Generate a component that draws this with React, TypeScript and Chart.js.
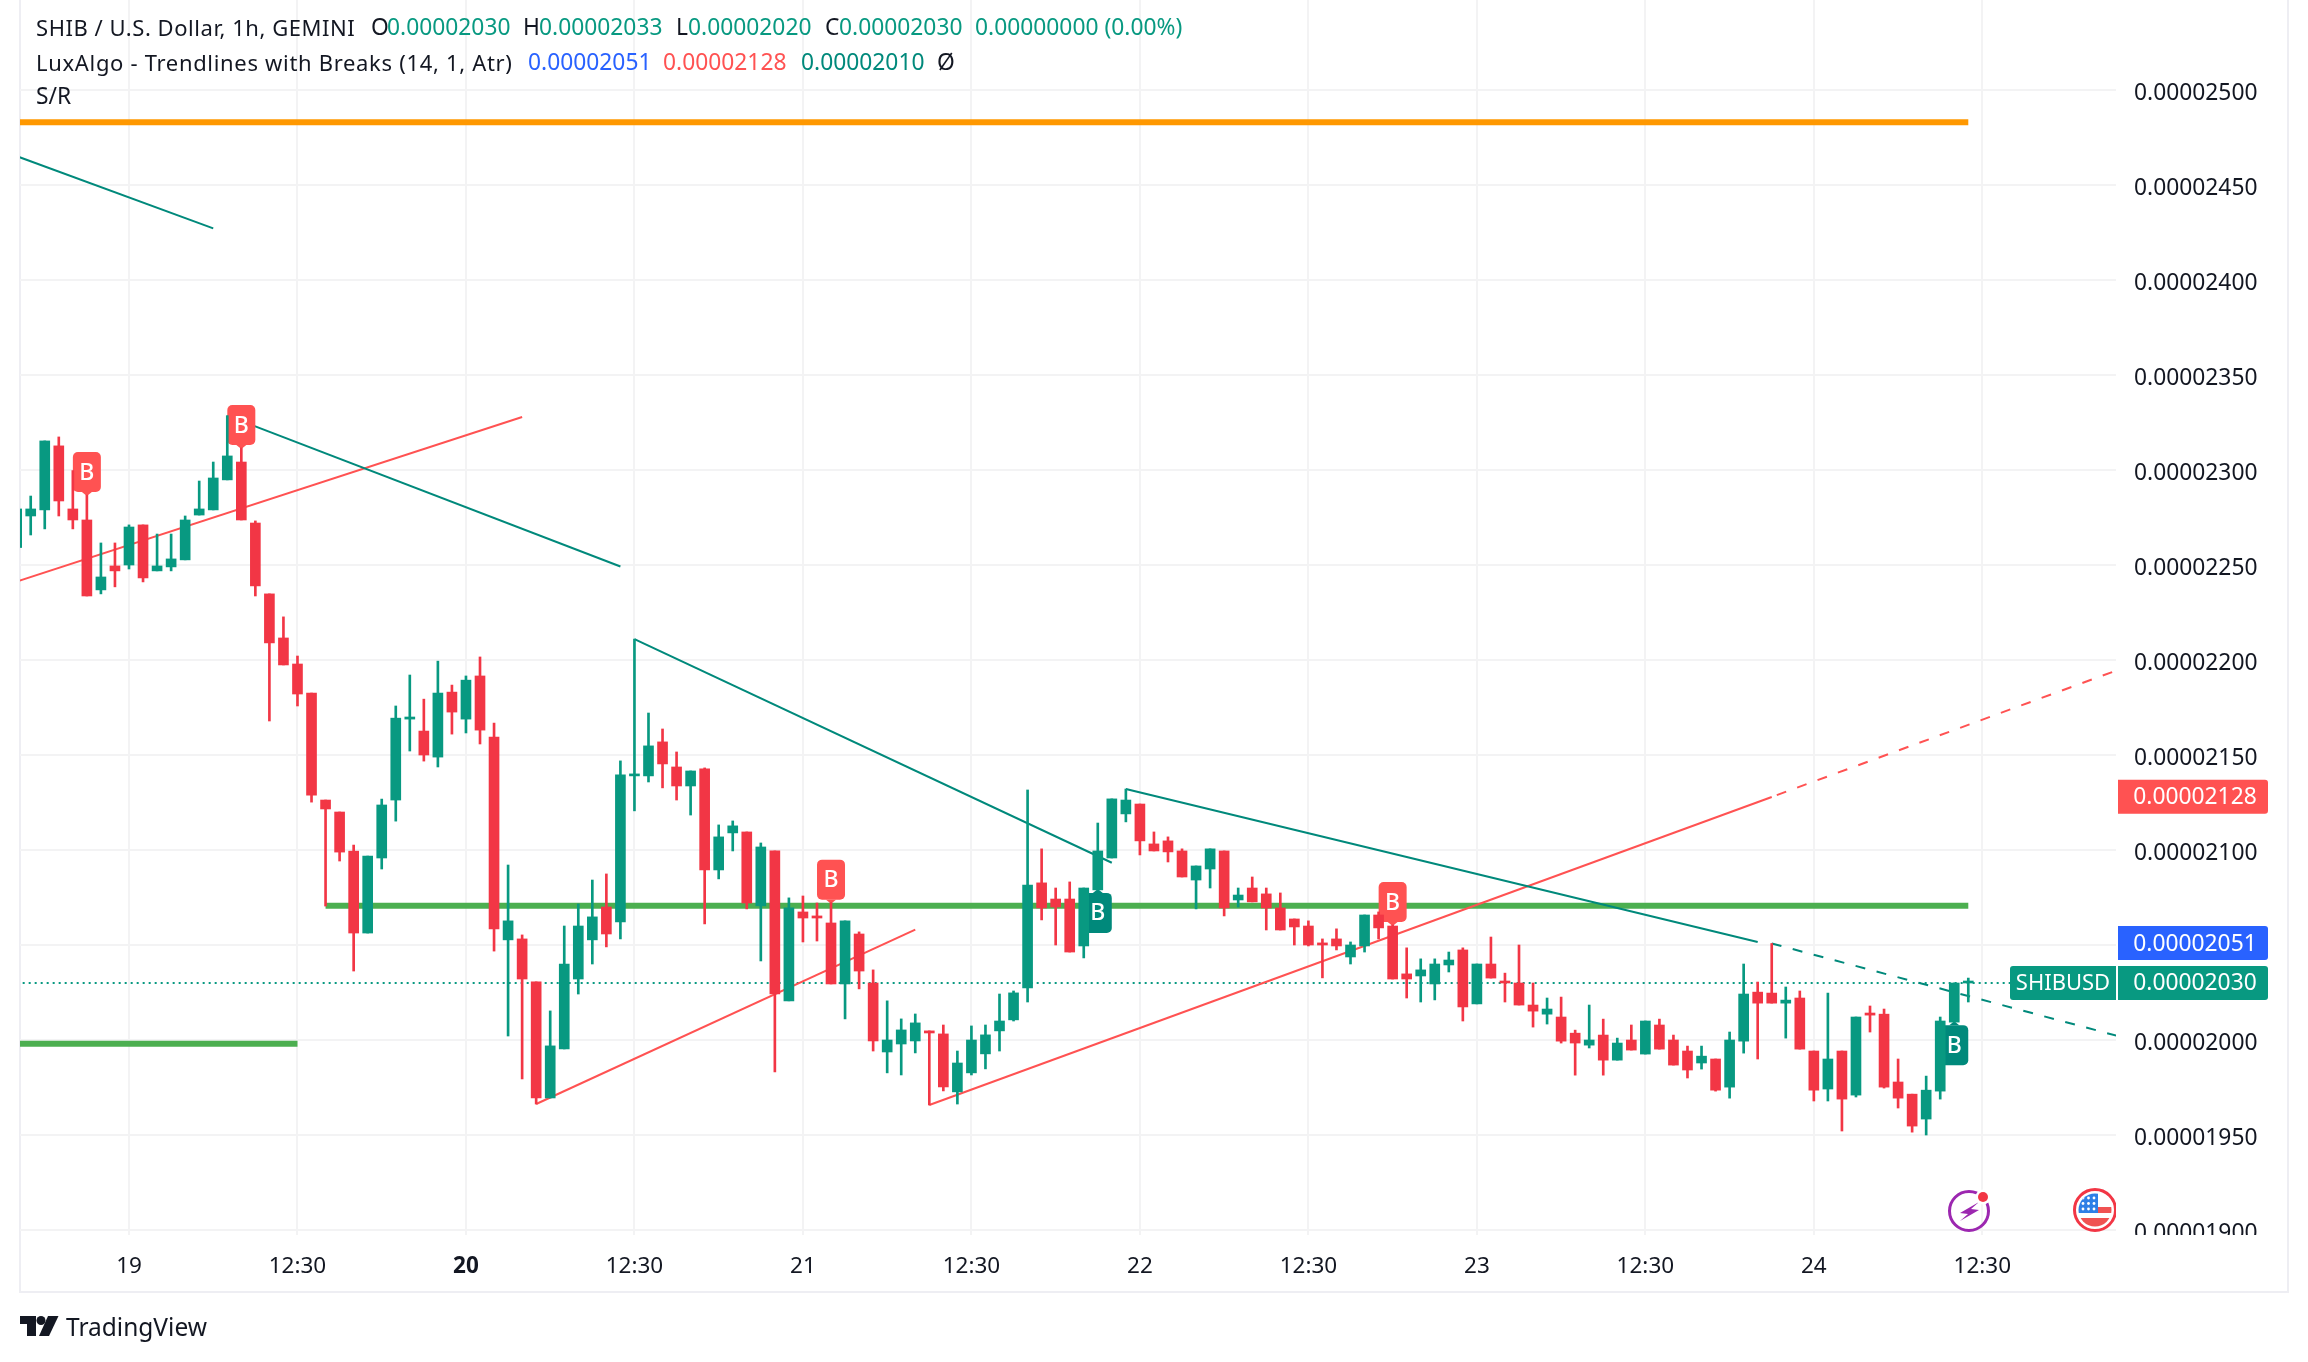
import React, { useEffect, useRef } from "react";
import { Chart, registerables } from "chart.js";

Chart.register(...registerables);

const firstBar = -8;

const opens = [
  2259.2, 2275.8, 2279.0, 2312.7, 2279.5, 2273.7, 2236.9, 2249.5, 2250.0, 2271.1,
  2246.9, 2249.0, 2252.7, 2276.3, 2279.0, 2294.8, 2304.2, 2272.1, 2234.8, 2211.6,
  2197.9, 2182.6, 2126.3, 2120.0, 2099.4, 2056.3, 2095.8, 2126.3, 2168.9, 2162.6,
  2148.9, 2183.1, 2168.9, 2191.6, 2159.4, 2052.7, 2053.2, 2030.6, 1969.5, 1995.3,
  2032.1, 2052.7, 2070.0, 2062.1, 2139.0, 2139.0, 2156.9, 2143.7, 2133.7, 2142.7,
  2089.5, 2109.0, 2109.5, 2070.6, 2099.5, 2020.6, 2067.4, 2065.3, 2061.6, 2029.5,
  2055.8, 2030.0, 1993.7, 1997.9, 1999.5, 2004.8, 2003.2, 1972.7, 1982.7, 1992.7,
  2004.8, 2010.6, 2027.4, 2082.7, 2074.2, 2074.2, 2049.5, 2079.0, 2095.8, 2119.0,
  2124.2, 2103.2, 2104.8, 2099.5, 2084.2, 2090.0, 2099.5, 2073.7, 2080.0, 2076.9,
  2069.5, 2063.7, 2060.0, 2051.1, 2053.2, 2043.7, 2049.5, 2065.8, 2060.0, 2034.8,
  2033.7, 2029.5, 2039.5, 2047.4, 2019.0, 2040.0, 2031.0, 2030.0, 2018.4, 2013.6,
  2012.1, 2003.6, 1997.3, 2002.6, 1989.4, 2000.0, 1992.6, 2007.9, 2000.0, 1994.2,
  1987.9, 1990.0, 1975.2, 1999.4, 2025.2, 2024.7, 2019.4, 2022.1, 1994.2, 1974.2,
  1994.2, 1971.0, 2014.2, 2013.6, 1977.9, 1971.5, 1958.4, 1973.1, 2009.4, 2030.0,
];

const closes = [
  2279.5, 2279.5, 2315.3, 2283.7, 2273.7, 2233.7, 2243.7, 2246.9, 2270.0, 2243.2,
  2249.5, 2253.2, 2273.7, 2279.5, 2295.8, 2307.4, 2273.7, 2239.0, 2209.0, 2197.4,
  2182.1, 2128.9, 2121.6, 2098.9, 2056.3, 2096.8, 2123.7, 2169.4, 2170.0, 2150.0,
  2182.6, 2172.6, 2189.4, 2163.1, 2058.4, 2062.7, 2032.1, 1969.5, 1996.9, 2040.0,
  2060.0, 2064.8, 2055.8, 2139.5, 2140.0, 2154.8, 2145.3, 2133.7, 2141.6, 2089.5,
  2106.9, 2112.7, 2072.1, 2101.6, 2024.2, 2069.5, 2064.2, 2064.2, 2029.5, 2062.7,
  2036.3, 1999.5, 2000.0, 2005.3, 2009.0, 2003.7, 1975.3, 1987.9, 2000.0, 2002.7,
  2010.0, 2024.8, 2081.6, 2069.5, 2070.0, 2046.3, 2080.0, 2099.5, 2126.9, 2126.3,
  2104.8, 2099.5, 2099.0, 2085.8, 2091.6, 2100.6, 2069.5, 2076.3, 2072.7, 2069.5,
  2057.9, 2059.5, 2050.0, 2050.0, 2049.5, 2050.0, 2065.8, 2059.0, 2032.1, 2032.1,
  2036.9, 2040.0, 2042.1, 2017.4, 2040.0, 2032.6, 2030.0, 2018.4, 2015.2, 2016.3,
  1999.4, 1998.4, 2000.0, 1989.4, 1998.4, 1994.7, 2010.0, 1995.2, 1986.8, 1984.2,
  1991.5, 1973.6, 2000.0, 2024.2, 2019.4, 2019.4, 2021.0, 1995.2, 1973.6, 1990.0,
  1968.9, 2012.1, 2013.1, 1975.2, 1969.4, 1954.7, 1973.6, 2010.0, 2030.0, 2030.0,
];

const highs = [
  2279.5, 2286.3, 2315.3, 2317.4, 2299.7, 2286.8, 2261.6, 2261.6, 2271.1, 2271.1,
  2266.3, 2266.3, 2275.8, 2294.2, 2304.2, 2328.6, 2311.6, 2273.2, 2234.8, 2222.7,
  2202.1, 2182.6, 2126.3, 2120.0, 2102.6, 2096.8, 2126.8, 2175.8, 2192.1, 2179.4,
  2199.4, 2186.8, 2191.6, 2201.6, 2166.8, 2092.1, 2055.3, 2030.6, 2015.3, 2060.0,
  2071.6, 2084.2, 2087.4, 2146.9, 2211.0, 2172.1, 2163.7, 2151.6, 2141.6, 2143.2,
  2113.2, 2115.3, 2109.5, 2103.7, 2099.5, 2074.8, 2075.8, 2072.1, 2072.3, 2062.7,
  2056.9, 2036.9, 2020.6, 2011.1, 2013.7, 2004.8, 2007.9, 1994.2, 2007.4, 2007.9,
  2024.2, 2025.8, 2131.6, 2100.6, 2080.0, 2083.2, 2080.0, 2114.2, 2126.9, 2132.1,
  2124.2, 2109.5, 2106.9, 2100.6, 2091.6, 2100.6, 2099.5, 2080.0, 2085.8, 2080.0,
  2077.4, 2063.7, 2062.7, 2053.2, 2058.5, 2051.6, 2065.8, 2067.4, 2060.5, 2048.5,
  2042.7, 2042.7, 2046.3, 2048.5, 2040.0, 2054.2, 2035.2, 2050.0, 2030.0, 2022.1,
  2022.6, 2005.2, 2018.4, 2011.0, 2001.0, 2007.9, 2010.0, 2011.0, 2002.6, 1996.8,
  1996.8, 1990.0, 2004.2, 2040.0, 2030.5, 2050.8, 2027.9, 2025.8, 1994.2, 2024.7,
  1994.2, 2012.1, 2017.9, 2016.3, 1990.0, 1971.5, 1981.0, 2012.1, 2030.0, 2032.6,
];

const lows = [
  2259.2, 2265.8, 2269.0, 2275.8, 2269.0, 2233.7, 2234.8, 2238.5, 2247.9, 2241.1,
  2246.9, 2246.9, 2252.7, 2276.3, 2279.0, 2294.8, 2273.7, 2233.7, 2167.9, 2197.4,
  2175.8, 2125.2, 2070.5, 2094.2, 2036.3, 2056.3, 2090.0, 2115.2, 2152.1, 2146.8,
  2143.7, 2161.0, 2161.6, 2155.8, 2046.8, 2002.1, 1979.5, 1966.3, 1969.5, 1995.3,
  2024.2, 2040.0, 2049.0, 2053.2, 2120.6, 2135.8, 2132.7, 2126.3, 2118.4, 2061.1,
  2084.8, 2099.5, 2069.0, 2041.6, 1983.2, 2020.6, 2051.6, 2052.1, 2029.5, 2011.1,
  2026.9, 1994.2, 1982.7, 1981.6, 1993.2, 1965.8, 1973.2, 1966.3, 1981.6, 1984.8,
  1994.2, 2010.0, 2020.0, 2063.2, 2050.0, 2046.3, 2043.2, 2079.0, 2095.8, 2114.8,
  2097.4, 2099.5, 2093.7, 2085.8, 2069.0, 2080.0, 2065.3, 2070.0, 2072.7, 2057.9,
  2057.9, 2050.0, 2049.5, 2032.7, 2047.4, 2040.0, 2046.3, 2053.2, 2032.1, 2022.1,
  2020.0, 2021.1, 2035.8, 2010.0, 2019.0, 2032.6, 2020.0, 2018.4, 2006.8, 2008.4,
  1998.4, 1981.5, 1995.8, 1981.5, 1989.4, 1994.7, 1992.6, 1995.2, 1986.8, 1980.0,
  1984.7, 1973.1, 1969.4, 1993.1, 1990.0, 2019.4, 2001.0, 1995.2, 1967.9, 1967.9,
  1952.1, 1970.0, 2004.2, 1974.7, 1964.2, 1951.5, 1950.0, 1968.9, 2009.4, 2020.0,
];

// Trendlines as [bar, price] pairs (price in units of 1e-8)
const tealLineA = [[-8, 2465.2], [6, 2427.2]];
const tealLineB = [[7, 2328.6], [35, 2249.2]];
const tealLineC = [[36, 2211.0], [70, 2093.3]];
const tealLineD = [[71, 2132.1], [116, 2051.6]];
const tealDashed = [[117, 2050.8], [142, 2001.4]];
const redLineA = [[-8, 2241.3], [28, 2327.9]];
const redLineB = [[29, 1966.3], [56, 2058.1]];
const redLineC = [[57, 1965.8], [117, 2127.9]];
const redDashed = [[117.36, 2128.9], [142, 2195.7]];

const resistanceLine = [[-8, 2483.0], [131, 2483.0]];
const supportLineA = [[-8, 1998.0], [12, 1998.0]];
const supportLineB = [[14, 2070.7], [131, 2070.7]];
const lastPriceLine = [[-8, 2030.0], [142, 2030.0]];

const redMarkerBars = [-3, 8, 50, 90];
const tealMarkerBars = [69, 130];

const priceTicks = [1900, 1950, 2000, 2050, 2100, 2150, 2200, 2250, 2300, 2350, 2400, 2450, 2500];
const timeTickBars = [0, 12, 24, 36, 48, 60, 72, 84, 96, 108, 120, 132];
const timeTickLabels = ["19", "12:30", "20", "12:30", "21", "12:30", "22", "12:30", "23", "12:30", "24", "12:30"];

const upperBandValue = 2128;
const basisValue = 2051;
const lastValue = 2030;
const symbolTag = "SHIBUSD";

const seriesTitle = "SHIB / U.S. Dollar, 1h, GEMINI";
const ohlcValues = ["0.00002030", "0.00002033", "0.00002020", "0.00002030"];
const changeText = "0.00000000 (0.00%)";
const indicatorTitle = "LuxAlgo - Trendlines with Breaks (14, 1, Atr)";
const indicatorValues = ["0.00002051", "0.00002128", "0.00002010"];

const GREEN = "#089981";
const RED = "#f23645";
const LINE_TEAL = "#00897b";
const LINE_RED = "#ff5252";
const INK = "#131722";
const FONT = '"Noto Sans"';

const fmt = (v: number) => (v * 1e-8).toFixed(8);
const pts = (rows: number[][]) => rows.map(([x, y]) => ({ x, y }));
const barColors = opens.map((o, i) => (closes[i] >= o ? GREEN : RED));

function lineSet(label: string, rows: number[][], color: string, width: number, order: number, dash?: number[]) {
  return {
    type: "line" as const,
    label,
    data: pts(rows),
    borderColor: color,
    backgroundColor: color,
    borderWidth: width,
    borderDash: dash || [],
    pointRadius: 0,
    tension: 0,
    order,
  };
}

function drawMarker(ctx: CanvasRenderingContext2D, x: number, tipY: number, color: string, pointsDown: boolean) {
  const w = 28;
  const h = 40;
  const top = pointsDown ? tipY - 3 - h : tipY + 3;
  ctx.save();
  ctx.fillStyle = color;
  ctx.beginPath();
  ctx.roundRect(x - w / 2, top, w, h, 5);
  ctx.fill();
  ctx.beginPath();
  if (pointsDown) {
    ctx.moveTo(x - 5, top + h);
    ctx.lineTo(x + 5, top + h);
    ctx.lineTo(x, tipY + 1);
  } else {
    ctx.moveTo(x - 5, top);
    ctx.lineTo(x + 5, top);
    ctx.lineTo(x, tipY - 1);
  }
  ctx.closePath();
  ctx.fill();
  ctx.fillStyle = "#ffffff";
  ctx.font = `500 23px ${FONT}`;
  ctx.textAlign = "center";
  ctx.textBaseline = "middle";
  ctx.fillText("B", x, top + h / 2 + 1);
  ctx.restore();
}

function drawTag(ctx: CanvasRenderingContext2D, left: number, width: number, y: number, color: string, text: string, radii: number[], size: number, shift: number) {
  ctx.fillStyle = color;
  ctx.beginPath();
  ctx.roundRect(left, y - 17, width, 34, radii);
  ctx.fill();
  ctx.fillStyle = "#ffffff";
  ctx.font = `${size}px ${FONT}`;
  ctx.textBaseline = "middle";
  ctx.textAlign = "center";
  ctx.fillText(text, left + width / 2 + shift, y + 1);
}

function drawIcons(ctx: CanvasRenderingContext2D) {
  // lightning badge
  ctx.save();
  ctx.strokeStyle = "#9c27b0";
  ctx.lineWidth = 3;
  ctx.beginPath();
  ctx.arc(1969, 1211, 19.5, 0, Math.PI * 2);
  ctx.stroke();
  ctx.fillStyle = "#9c27b0";
  ctx.beginPath();
  ctx.moveTo(1979, 1202);
  ctx.lineTo(1960, 1213);
  ctx.lineTo(1968, 1214);
  ctx.lineTo(1960, 1221);
  ctx.lineTo(1979, 1210);
  ctx.lineTo(1971, 1209);
  ctx.closePath();
  ctx.fill();
  ctx.fillStyle = "#ffffff";
  ctx.beginPath();
  ctx.arc(1983, 1197, 7.5, 0, Math.PI * 2);
  ctx.fill();
  ctx.fillStyle = RED;
  ctx.beginPath();
  ctx.arc(1983, 1197, 5, 0, Math.PI * 2);
  ctx.fill();
  ctx.restore();

  // flag badge, cut by the price axis
  ctx.save();
  ctx.beginPath();
  ctx.rect(2060, 1180, 56, 55);
  ctx.clip();
  ctx.strokeStyle = RED;
  ctx.lineWidth = 3;
  ctx.beginPath();
  ctx.arc(2095, 1210, 20.5, 0, Math.PI * 2);
  ctx.stroke();
  ctx.beginPath();
  ctx.arc(2095, 1210, 16.5, 0, Math.PI * 2);
  ctx.clip();
  ctx.fillStyle = "#ffffff";
  ctx.fillRect(2075, 1190, 40, 40);
  ctx.fillStyle = "#f05252";
  ctx.fillRect(2098, 1207, 16, 6);
  ctx.fillRect(2075, 1218, 40, 10);
  ctx.fillStyle = "#2f7fe6";
  ctx.fillRect(2075, 1190, 23, 23);
  ctx.fillStyle = "#ffffff";
  [1198, 1203.5, 1209].forEach((y) => {
    [2083, 2088.5, 2094].forEach((x) => {
      ctx.beginPath();
      ctx.arc(x, y, 1.4, 0, Math.PI * 2);
      ctx.fill();
    });
  });
  ctx.restore();
}

const tvPlugin = {
  id: "tvDecor",
  beforeDraw(chart: any) {
    const ctx = chart.ctx;
    ctx.save();
    ctx.fillStyle = "#ffffff";
    ctx.fillRect(0, 0, chart.width, chart.height);
    ctx.fillStyle = "#eeeef3";
    ctx.fillRect(19, 0, 2, 1293);
    ctx.fillRect(19, 1291, 2270, 2);
    ctx.fillRect(2287, 0, 2, 1293);
    ctx.restore();
  },
  beforeDatasetDraw(chart: any, args: any) {
    if (chart.data.datasets[args.index].label !== "wicks") return;
    const { x, y } = chart.scales;
    redMarkerBars.forEach((b) => {
      drawMarker(chart.ctx, x.getPixelForValue(b), y.getPixelForValue(highs[b - firstBar]), LINE_RED, true);
    });
    tealMarkerBars.forEach((b) => {
      drawMarker(chart.ctx, x.getPixelForValue(b), y.getPixelForValue(lows[b - firstBar]), LINE_TEAL, false);
    });
  },
  afterDraw(chart: any) {
    const ctx = chart.ctx;
    const y = chart.scales.y;
    const area = chart.chartArea;
    ctx.save();
    ctx.fillStyle = "#ffffff";
    ctx.fillRect(area.right, area.bottom, 170, 16);
    drawIcons(ctx);
    drawTag(ctx, 2118, 150, y.getPixelForValue(upperBandValue), LINE_RED, fmt(upperBandValue), [0, 3, 3, 0], 22.8, 2);
    drawTag(ctx, 2118, 150, y.getPixelForValue(basisValue), "#2962ff", fmt(basisValue), [0, 3, 3, 0], 22.8, 2);
    drawTag(ctx, 2118, 150, y.getPixelForValue(lastValue), GREEN, fmt(lastValue), [0, 3, 3, 0], 22.8, 2);
    drawTag(ctx, 2010, 106, y.getPixelForValue(lastValue), GREEN, symbolTag, [3, 0, 0, 3], 22, 0);
    ctx.restore();
  },
};

const abs = (left: number, top: number, color: string = INK, tracking: number = 0): React.CSSProperties => ({
  position: "absolute",
  left,
  top,
  color,
  whiteSpace: "nowrap",
  lineHeight: "34px",
  letterSpacing: tracking,
});

export default function App() {
  const canvasRef = useRef<HTMLCanvasElement | null>(null);

  useEffect(() => {
    if (!canvasRef.current) return;
    const chart = new Chart(canvasRef.current, {
      type: "bar",
      data: {
        datasets: [
          {
            label: "bodies",
            data: opens.map((o, i) => ({ x: i + firstBar, y: [Math.min(o, closes[i]), Math.max(o, closes[i])] })),
            backgroundColor: barColors,
            borderWidth: 0,
            barThickness: 10,
            minBarLength: 2,
            grouped: false,
            order: 1,
          },
          {
            label: "wicks",
            data: highs.map((h, i) => ({ x: i + firstBar, y: [lows[i], h] })),
            backgroundColor: barColors,
            borderWidth: 0,
            barThickness: 2,
            grouped: false,
            order: 2,
          },
          lineSet("tealDashed", tealDashed, LINE_TEAL, 2, 3, [10, 11.7]),
          lineSet("redDashed", redDashed, LINE_RED, 2, 3, [10, 11.7]),
          lineSet("tealA", tealLineA, LINE_TEAL, 2, 4),
          lineSet("tealB", tealLineB, LINE_TEAL, 2, 4),
          lineSet("tealC", tealLineC, LINE_TEAL, 2, 4),
          lineSet("tealD", tealLineD, LINE_TEAL, 2, 4),
          lineSet("redA", redLineA, LINE_RED, 2, 5),
          lineSet("redB", redLineB, LINE_RED, 2, 5),
          lineSet("redC", redLineC, LINE_RED, 2, 5),
          lineSet("resistance", resistanceLine, "#ff9800", 6, 6),
          lineSet("supportA", supportLineA, "#4caf50", 6, 6),
          lineSet("supportB", supportLineB, "#4caf50", 6, 6),
          lineSet("last", lastPriceLine, GREEN, 2, 7, [2, 4]),
        ] as any,
      },
      options: {
        responsive: false,
        animation: false,
        devicePixelRatio: 1,
        layout: { padding: { left: 20, right: 20, top: 0, bottom: 70 } },
        plugins: { legend: { display: false }, tooltip: { enabled: false } },
        events: [],
        scales: {
          x: {
            type: "linear",
            offset: false,
            min: -7.763,
            max: 141.52,
            grid: { offset: false, color: "#f3f3f4", lineWidth: 2, drawTicks: false },
            border: { display: false },
            afterBuildTicks: (s: any) => {
              s.ticks = timeTickBars.map((value) => ({ value }));
            },
            afterFit: (s: any) => {
              s.height = 57;
              s.paddingLeft = 0;
              s.paddingRight = 0;
            },
            ticks: {
              autoSkip: false,
              maxRotation: 0,
              padding: 18,
              color: INK,
              font: (c: any) => ({ family: FONT, size: 22.5, weight: c.index === 2 ? "bold" : "normal" }),
              callback: (_v: any, i: number) => timeTickLabels[i],
            },
          },
          y: {
            type: "linear",
            position: "right",
            min: 1897.37,
            max: 2547.37,
            grid: { color: "#f3f3f4", lineWidth: 2, drawTicks: false },
            border: { display: false },
            afterBuildTicks: (s: any) => {
              s.ticks = priceTicks.map((value) => ({ value }));
            },
            afterFit: (s: any) => {
              s.width = 172;
              s.paddingTop = 0;
              s.paddingBottom = 0;
            },
            ticks: {
              autoSkip: false,
              padding: 18,
              labelOffset: 4,
              color: INK,
              font: { family: FONT, size: 22.8 },
              callback: (v: any) => fmt(Number(v)),
            },
          },
        },
      } as any,
      plugins: [tvPlugin],
    } as any);
    return () => chart.destroy();
  }, []);

  return (
    <div
      style={{
        position: "absolute",
        left: 0,
        top: 0,
        width: 2308,
        height: 1362,
        overflow: "hidden",
        background: "#fff",
        fontFamily: FONT,
        fontSize: 22.8,
      }}
    >
      <canvas ref={canvasRef} width={2308} height={1362} style={{ display: "block" }} />

      <span style={{ ...abs(36, 10, INK, 0.55), fontSize: 22 }}>{seriesTitle}</span>
      <span style={abs(371, 10)}>O</span>
      <span style={abs(387, 10, GREEN)}>{ohlcValues[0]}</span>
      <span style={abs(523, 10)}>H</span>
      <span style={abs(539, 10, GREEN)}>{ohlcValues[1]}</span>
      <span style={abs(676, 10)}>L</span>
      <span style={abs(688, 10, GREEN)}>{ohlcValues[2]}</span>
      <span style={abs(825, 10)}>C</span>
      <span style={abs(839, 10, GREEN)}>{ohlcValues[3]}</span>
      <span style={abs(975, 10, GREEN)}>{changeText}</span>

      <span style={{ ...abs(36, 45, INK, 0.68), fontSize: 22 }}>{indicatorTitle}</span>
      <span style={abs(528, 45, "#2962ff")}>{indicatorValues[0]}</span>
      <span style={abs(663, 45, LINE_RED)}>{indicatorValues[1]}</span>
      <span style={abs(801, 45, LINE_TEAL)}>{indicatorValues[2]}</span>
      <span style={abs(937, 45)}>Ø</span>

      <span style={abs(36, 79)}>S/R</span>

      <svg style={{ position: "absolute", left: 20, top: 1316 }} width="39" height="20" viewBox="0 0 39 20">
        <path d="M0 0H16V20H7V8H0Z" fill={INK} />
        <circle cx="21" cy="4.5" r="4.5" fill={INK} />
        <path d="M28 0H38.5L29 20H19Z" fill={INK} />
      </svg>
      <span style={{ ...abs(66, 1310), fontSize: 24.5 }}>TradingView</span>
    </div>
  );
}
